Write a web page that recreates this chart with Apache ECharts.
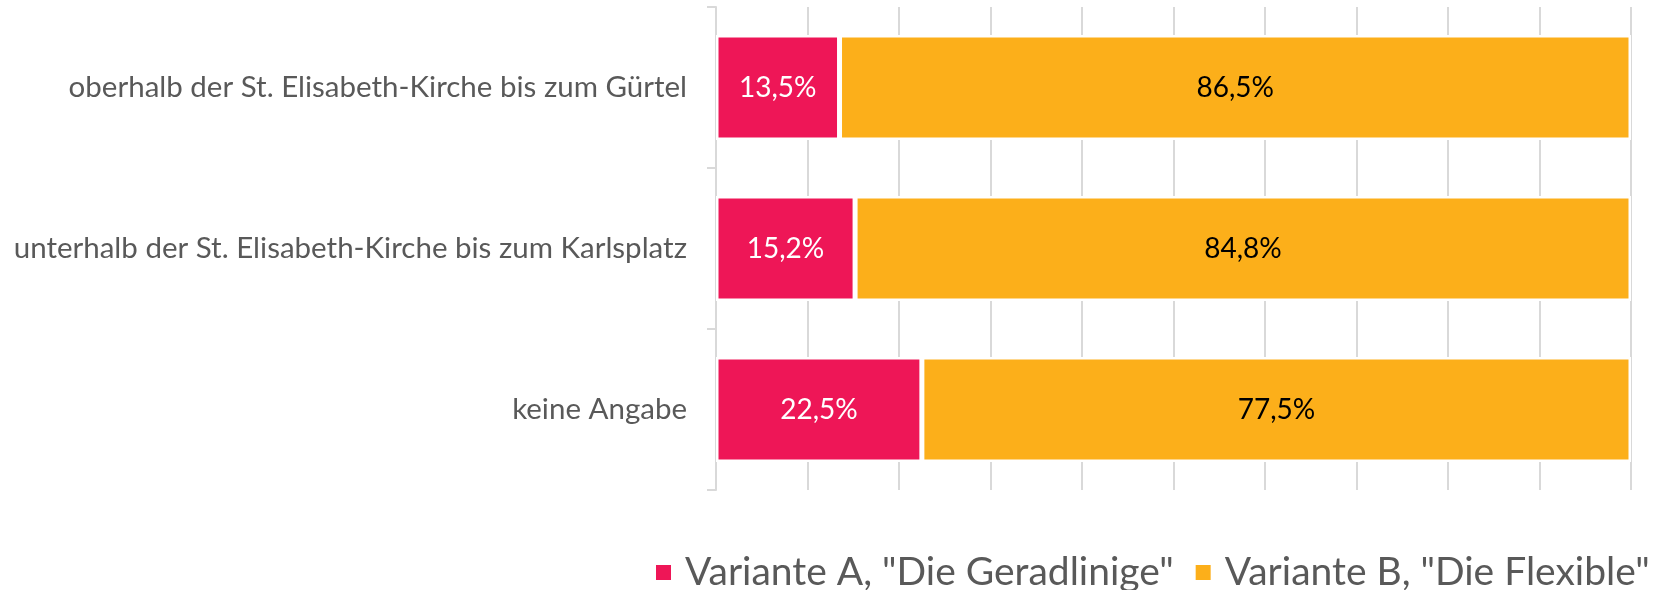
<!DOCTYPE html>
<html>
<head>
<meta charset="utf-8">
<script src="https://cdn.jsdelivr.net/npm/echarts@6/dist/echarts.min.js"></script>
<style>
  html, body { margin: 0; padding: 0; background: #fff; }
  #chart { width: 1655px; height: 590px; }
</style>
</head>
<body>
<div id="chart"></div>
<script>
const categories = [
  "oberhalb der St. Elisabeth-Kirche bis zum Gürtel",
  "unterhalb der St. Elisabeth-Kirche bis zum Karlsplatz",
  "keine Angabe"
];
const seriesNames = ['Variante A, "Die Geradlinige"', 'Variante B, "Die Flexible"'];
const varianteA = [13.5, 15.2, 22.5];
const varianteB = [86.5, 84.8, 77.5];
const xTicks = [0, 10, 20, 30, 40, 50, 60, 70, 80, 90, 100];

const colors = ["#ee1657", "#fcaf1a"];
const fontFamily = "Lato, 'Open Sans', sans-serif";

const pct = v => v.toFixed(1).replace(".", ",") + "%";

const chart = echarts.init(document.getElementById("chart"));

const makeSeries = (name, data, idx, labelColor) => ({
  name,
  type: "bar",
  stack: "total",
  data,
  barWidth: 105,
  itemStyle: {
    color: colors[idx],
    borderColor: "#ffffff",
    borderWidth: 2.5
  },
  label: {
    show: true,
    position: "inside",
    color: labelColor,
    fontFamily,
    fontSize: 28,
    formatter: p => pct(p.value)
  },
  emphasis: { disabled: true }
});

chart.setOption({
  animation: false,
  grid: { left: 716, right: 24, top: 7, bottom: 100 },
  legend: {
    left: 649,
    top: 548,
    itemWidth: 17,
    itemHeight: 17,
    itemGap: 20,
    icon: "rect",
    textStyle: {
      color: "#595959",
      fontFamily,
      fontSize: 39,
      padding: [0, 0, 0, 8]
    },
    data: seriesNames
  },
  xAxis: {
    type: "value",
    min: xTicks[0],
    max: xTicks[xTicks.length - 1],
    interval: 10,
    axisLabel: { show: false },
    axisLine: { show: false },
    axisTick: { show: false },
    splitLine: { show: true, lineStyle: { color: "#d9d9d9", width: 2 } }
  },
  yAxis: {
    type: "category",
    inverse: true,
    data: categories,
    axisLine: { show: true, lineStyle: { color: "#d9d9d9", width: 2 } },
    axisTick: { show: true, length: 9, lineStyle: { color: "#d9d9d9", width: 2 } },
    axisLabel: {
      color: "#595959",
      fontFamily,
      fontSize: 29.5,
      margin: 29
    }
  },
  series: [
    makeSeries(seriesNames[0], varianteA, 0, "#ffffff"),
    makeSeries(seriesNames[1], varianteB, 1, "#000000")
  ]
});
</script>
</body>
</html>
